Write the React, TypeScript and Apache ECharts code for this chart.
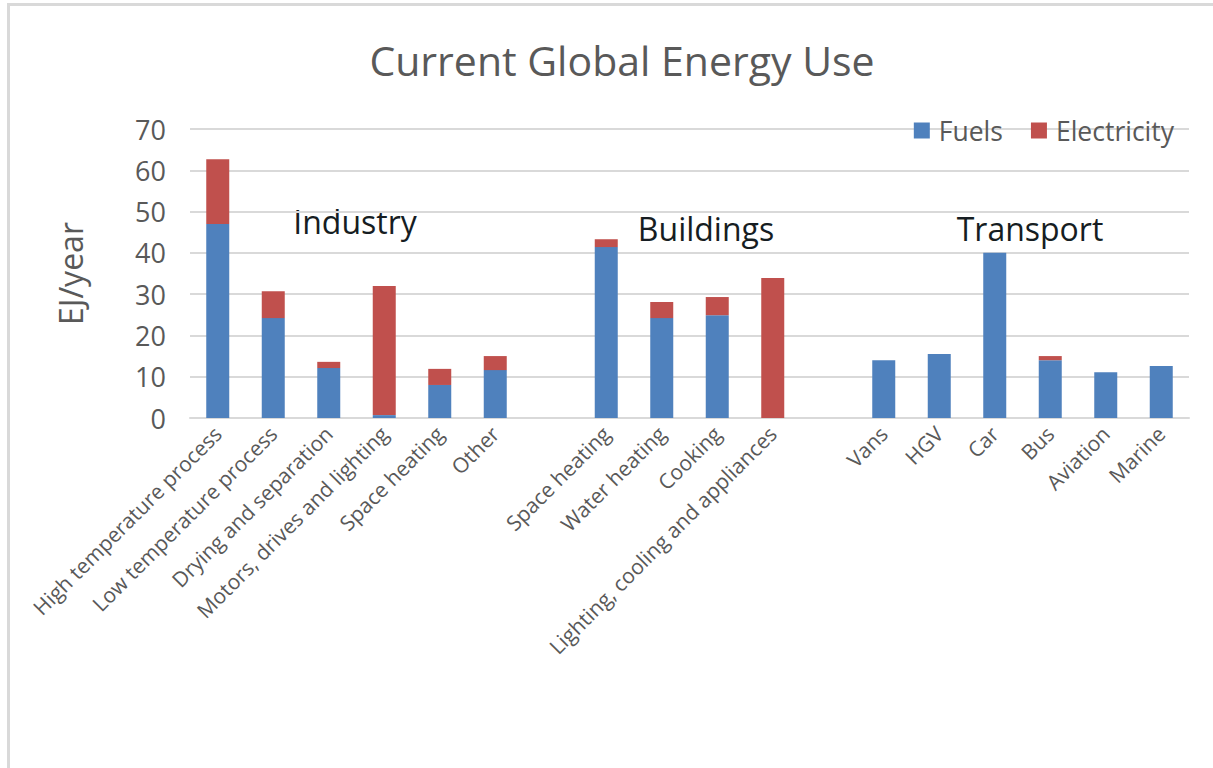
import React, { useEffect, useRef } from "react";
import * as echarts from "echarts";

// Energy end-uses, grouped by sector; empty strings are spacer slots between sectors.
const categories = [
  "High temperature process",
  "Low temperature process",
  "Drying and separation",
  "Motors, drives and lighting",
  "Space heating",
  "Other",
  "",
  "Space heating",
  "Water heating",
  "Cooking",
  "Lighting, cooling and appliances",
  "",
  "Vans",
  "HGV",
  "Car",
  "Bus",
  "Aviation",
  "Marine",
];

// EJ/year
const fuels = [47, 24.2, 12.1, 0.7, 8, 11.6, null, 41.4, 24.2, 24.9, 0, null, 14, 15.5, 40, 14, 11.1, 12.6];
const electricity = [15.7, 6.5, 1.5, 31.3, 3.9, 3.4, null, 1.9, 3.9, 4.4, 33.9, null, 0, 0, 0, 1, 0, 0];

const sectorLabels = ["Industry", "Buildings", "Transport"];
const yTicks = [0, 10, 20, 30, 40, 50, 60, 70];

const FONT = "'Open Sans', 'Noto Sans', sans-serif";
const GREY = "#595959";

export default function App() {
  const ref = useRef<HTMLDivElement>(null);

  useEffect(() => {
    if (!ref.current) return;
    const chart = echarts.init(ref.current, null, { renderer: "svg" });
    const sectorText = (text: string, x: number, y: number) => ({
      type: "text",
      x,
      y,
      style: { text, font: `32px ${FONT}`, fill: "#161d22", align: "center", verticalAlign: "middle" },
    });
    chart.setOption({
      animation: false,
      backgroundColor: "#ffffff",
      textStyle: { fontFamily: FONT },
      title: {
        text: "Current Global Energy Use",
        left: 617,
        top: 34,
        textAlign: "center",
        textStyle: { fontFamily: FONT, fontSize: 41, fontWeight: "normal", color: GREY },
      },
      legend: {
        right: 34,
        top: 112,
        itemWidth: 16,
        itemHeight: 16,
        itemGap: 28,
        icon: "rect",
        textStyle: { fontFamily: FONT, fontSize: 26.5, color: GREY, padding: [0, 0, 0, 4] },
        data: ["Fuels", "Electricity"],
      },
      grid: { left: 190, right: 24, top: 129, bottom: 350, containLabel: false },
      xAxis: {
        type: "category",
        data: categories,
        axisLine: { lineStyle: { color: "#d9d9d9", width: 2 } },
        axisTick: { show: false },
        axisLabel: {
          interval: 0,
          rotate: 45,
          margin: 12,
          fontFamily: FONT,
          fontSize: 21,
          color: GREY,
        },
      },
      yAxis: {
        type: "value",
        min: yTicks[0],
        max: yTicks[yTicks.length - 1],
        interval: 10,
        name: "EJ/year",
        nameLocation: "middle",
        nameGap: 104,
        nameRotate: 90,
        nameTextStyle: { fontFamily: FONT, fontSize: 32, color: GREY },
        axisLine: { show: false },
        axisTick: { show: false },
        axisLabel: { margin: 24, fontFamily: FONT, fontSize: 27, color: GREY },
        splitLine: { lineStyle: { color: "#d9d9d9", width: 2 } },
      },
      series: [
        {
          name: "Fuels",
          type: "bar",
          stack: "energy",
          data: fuels,
          barWidth: 23,
          itemStyle: { color: "#4f81bd" },
        },
        {
          name: "Electricity",
          type: "bar",
          stack: "energy",
          data: electricity,
          barWidth: 23,
          itemStyle: { color: "#c0504d" },
        },
      ],
      graphic: [
        {
          type: "rect",
          shape: { x: 8.5, y: 4.5, width: 1300, height: 900 },
          style: { fill: "none", stroke: "#d9d9d9", lineWidth: 3 },
          silent: true,
        },
        sectorText(sectorLabels[0], 355, 221),
        sectorText(sectorLabels[1], 706, 228),
        sectorText(sectorLabels[2], 1030, 228),
      ],
    });
    return () => chart.dispose();
  }, []);

  return (
    <div
      ref={ref}
      style={{ position: "fixed", left: 0, top: 0, width: 1213, height: 768, background: "#fff" }}
    />
  );
}
